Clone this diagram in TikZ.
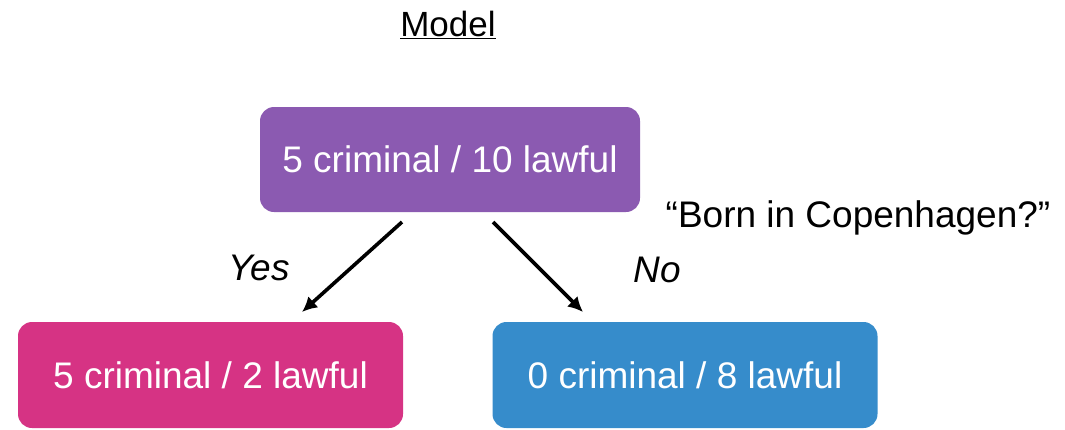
\documentclass[tikz,border=0pt]{standalone}
\usepackage{fontspec}
\setmainfont{Liberation Sans}
\usetikzlibrary{arrows.meta}
\definecolor{rootcol}{RGB}{139,90,177}
\definecolor{yescol}{RGB}{214,51,132}
\definecolor{nocol}{RGB}{54,140,203}
\begin{document}
\begin{tikzpicture}[x=1pt,y=-1pt,
  leaf/.style={rounded corners=14pt, text=white, minimum width=385pt, minimum height=106pt,
    inner sep=0pt, font=\fontsize{37}{42}\selectfont},
  plain/.style={font=\fontsize{37}{42}\selectfont, inner sep=0pt},
  branch/.style={line width=3.6pt, -{Latex[length=15pt,width=15pt]}}]
\useasboundingbox (0,0) rectangle (1065,429);
\node[leaf, fill=rootcol, minimum width=380pt, minimum height=105pt] (root) at (450,159.5) {5 criminal / 10 lawful};
\node[leaf, fill=yescol] (yes) at (210.5,375) {5 criminal / 2 lawful};
\node[leaf, fill=nocol] (no) at (685,375) {0 criminal / 8 lawful};
\node[plain, font=\fontsize{35}{40}\selectfont] (title) at (448,25) {\underline{Model}};
\node[plain] (question) at (858,218) {“Born in Copenhagen?”};
\node[plain] (ylab) at (259,268) {\itshape Yes};
\node[plain] (nlab) at (657,270) {\itshape No};
\coordinate (ys) at (402,222);
\coordinate (ye) at (302,312);
\coordinate (ns) at (493,222);
\coordinate (ne) at (583,312);
\draw[branch] (ys) -- (ye);
\draw[branch] (ns) -- (ne);
\end{tikzpicture}
\end{document}
